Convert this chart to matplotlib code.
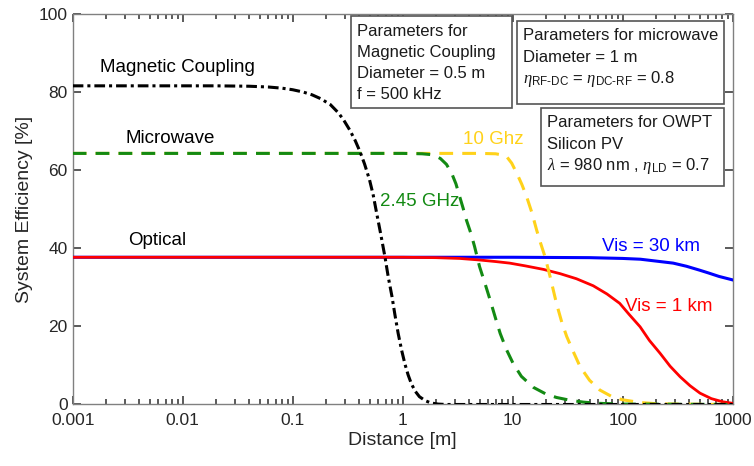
import matplotlib
matplotlib.use("Agg")
import matplotlib.pyplot as plt
from matplotlib.patches import Rectangle
from matplotlib.ticker import NullFormatter, FixedLocator

plt.rcParams["font.family"] = ["Liberation Sans", "DejaVu Sans"]
plt.rcParams["mathtext.fontset"] = "custom"
plt.rcParams["mathtext.rm"] = "Liberation Sans"
plt.rcParams["mathtext.it"] = "Liberation Serif:italic"

# --- data (distance in m, efficiency in %) ---
mag_d = [0.001, 0.02, 0.04, 0.06, 0.08, 0.1, 0.125, 0.15, 0.18, 0.22, 0.26,
         0.29, 0.33, 0.37, 0.41, 0.45, 0.50, 0.54, 0.58, 0.63, 0.69, 0.74,
         0.80, 0.85, 0.91, 0.98, 1.05, 1.12, 1.2, 1.3, 1.42, 1.6, 1.8, 2.1,
         2.5, 10, 1000]
mag_v = [81.6, 81.6, 81.5, 81.3, 81.0, 80.6, 80.0, 79.3, 78.3, 76.8, 74.7,
         72.9, 70.3, 67.6, 64.7, 61.6, 57.5, 53.6, 49.0, 43.8, 37.8, 32.6,
         27.6, 23.0, 18.2, 13.8, 10.3, 7.6, 5.3, 3.4, 2.0, 1.0, 0.4, 0.1,
         0.0, 0.0, 0.0]

mw245_d = [0.001, 1.0, 1.5, 1.8, 2.0, 2.2, 2.5, 2.79, 3.05, 3.3, 3.55, 3.8,
           4.15, 4.5, 5.0, 5.6, 6.2, 7.0, 7.7, 8.8, 10.1, 12, 15.4, 20, 25,
           33, 44, 60, 100, 1000]
mw245_v = [64.3, 64.3, 64.2, 64.0, 63.6, 63.0, 61.5, 59.2, 56.5, 53.2, 50.2,
           47.2, 44.0, 40.5, 35.3, 31.0, 27.0, 22.0, 18.2, 14.0, 10.5, 7.2,
           4.4, 2.7, 1.8, 1.1, 0.6, 0.3, 0.1, 0.0]

mw10_d = [0.001, 5, 7, 8, 8.8, 9.8, 10.9, 12.1, 13.4, 15, 16.5, 18, 19.7, 22,
          25, 28, 31, 36, 41, 50, 62, 80, 100, 145, 200, 300, 1000]
mw10_v = [64.3, 64.3, 64.2, 63.9, 63.5, 61.8, 59.2, 56.4, 53.2, 49.0, 44.7,
          41.2, 37.8, 32.5, 25.9, 21.0, 17.4, 13.2, 9.7, 6.2, 3.7, 2.0, 1.2,
          0.5, 0.2, 0.1, 0.0]

vis30_d = [0.001, 10, 50, 100, 145, 219, 288, 380, 500, 600, 750, 1000]
vis30_v = [37.7, 37.7, 37.6, 37.4, 37.2, 36.6, 36.2, 35.4, 34.4, 33.7, 32.8,
           31.9]

vis1_d = [0.001, 1, 2, 3.3, 5, 7, 9.4, 13, 19, 27, 38, 54, 72, 94, 115, 144,
          175, 219, 270, 333, 410, 505, 640, 810, 1000]
vis1_v = [37.7, 37.7, 37.6, 37.4, 37.0, 36.6, 36.2, 35.5, 34.6, 33.5, 32.2,
          30.4, 28.3, 25.9, 23.0, 19.9, 16.4, 13.1, 9.8, 7.1, 4.8, 2.9, 1.5,
          0.7, 0.3]

x_ticks = [0.001, 0.01, 0.1, 1, 10, 100, 1000]
x_ticklabels = ["0.001", "0.01", "0.1", "1", "10", "100", "1000"]
y_ticks = [0, 20, 40, 60, 80, 100]

box_mag = ["Parameters for", "Magnetic Coupling", "Diameter = 0.5 m", "f = 500 kHz"]
box_mw = ["Parameters for microwave", "Diameter = 1 m",
          r"$\it{\eta}_{\rm RF\text{-}DC}$ = $\it{\eta}_{\rm DC\text{-}RF}$ = 0.8"]
box_ow = ["Parameters for OWPT", "Silicon PV",
          r"$\it{\lambda}$ = 980 nm , $\it{\eta}_{\rm LD}$ = 0.7"]

GREEN = "#138a13"
YELLOW = "#ffd21a"

fig = plt.figure(figsize=(7.54, 4.66), dpi=100)
ax = fig.add_axes([0.0964, 0.132, 0.8753, 0.838])

ax.plot(vis30_d, vis30_v, color="#0000ff", lw=2.2, zorder=3)
ax.plot(vis1_d, vis1_v, color="#ff0000", lw=2.0, zorder=3)
ax.plot(mw10_d, mw10_v, color=YELLOW, lw=2.2, dashes=(4.5, 3), zorder=4)
ax.plot(mw245_d, mw245_v, color=GREEN, lw=2.2, dashes=(4.5, 3), zorder=4)
ax.plot(mag_d, mag_v, color="black", lw=2.2, dashes=(3.5, 1.3, 1, 1.3), zorder=5)

ax.set_xscale("log")
ax.set_xlim(0.001, 1000)
ax.set_ylim(0, 100)
ax.set_yticks(y_ticks)
ax.xaxis.set_major_locator(FixedLocator(x_ticks))
ax.set_xticklabels(x_ticklabels)
minor = [k * 10.0 ** e for e in range(-3, 3) for k in range(2, 10)]
ax.xaxis.set_minor_locator(FixedLocator(minor))
ax.xaxis.set_minor_formatter(NullFormatter())

for s in ax.spines.values():
    s.set_color("#808080")
    s.set_linewidth(1.0)
ax.tick_params(which="both", direction="in", top=True, right=True,
               colors="#4d4d4d", labelcolor="#262626", labelsize=12.5, width=1.3)
ax.tick_params(which="major", length=6)
ax.tick_params(which="minor", length=3.5)
ax.tick_params(axis="x", pad=6)

ax.set_xlabel("Distance [m]", fontsize=14, color="#262626", labelpad=3)
ax.set_ylabel("System Efficiency [%]", fontsize=14, color="#262626", labelpad=4)

# curve labels
fs = 13.5
ax.text(0.00178, 86.4, "Magnetic Coupling", fontsize=fs, va="center", color="black")
ax.text(0.0030, 68.2, "Microwave", fontsize=fs, va="center", color="black")
ax.text(0.00318, 42.1, "Optical", fontsize=fs, va="center", color="black")
ax.text(0.626, 51.9, "2.45 GHz", fontsize=fs, va="center", color=GREEN)
ax.text(3.56, 67.9, "10 Ghz", fontsize=fs, va="center", color=YELLOW)
ax.text(64.4, 40.4, "Vis = 30 km", fontsize=fs, va="center", color="#0000ff")
ax.text(105, 25.2, "Vis = 1 km", fontsize=fs, va="center", color="#ff0000")


def param_box(x0, x1, y0, y1, tx, tys, lines):
    ax.add_patch(Rectangle((x0, y0), x1 - x0, y1 - y0, transform=ax.transAxes,
                           facecolor="white", edgecolor="#555555", lw=1.2,
                           zorder=6, clip_on=False))
    for ty, line in zip(tys, lines):
        ax.text(tx, ty, line, transform=ax.transAxes, fontsize=12, va="center",
                ha="left", color="#1a1a1a", zorder=7)


param_box(0.4212, 0.6652, 0.7593, 0.9949, 0.4303,
          [0.9547, 0.9009, 0.8464, 0.7926], box_mag)
param_box(0.6727, 0.9868, 0.7695, 0.9828, 0.6818,
          [0.9455, 0.8891, 0.8335], box_mw)
param_box(0.7091, 0.9868, 0.5603, 0.7600, 0.7182,
          [0.7209, 0.6645, 0.6115], box_ow)

fig.savefig("out.png", dpi=100)
